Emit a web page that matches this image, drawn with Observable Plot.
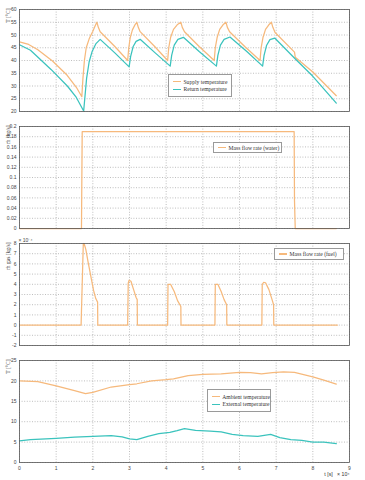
<!DOCTYPE html>
<html><head><meta charset="utf-8">
<script src="https://cdn.jsdelivr.net/npm/d3@7"></script>
<script src="https://cdn.jsdelivr.net/npm/@observablehq/plot@0.6"></script>
<style>
body{margin:0;background:#fff;}
#wrap{position:relative;width:365px;height:480px;overflow:hidden;}
.panel{position:absolute;left:0;}
.legend{position:absolute;background:#fff;border:0.8px solid #9a9a9a;font-family:"Liberation Serif","Times New Roman",serif;font-size:5.6px;color:#333;box-sizing:border-box;display:flex;flex-direction:column;justify-content:center;padding-left:4px;}
.legend .row{display:flex;align-items:center;height:7.5px;white-space:nowrap;}
.legend .sw{display:inline-block;width:8px;height:1.3px;margin-right:2.5px;}
</style></head>
<body><div id="wrap"></div>
<script>
// ---- data (time in units of 1e4 s) ----
const supplyTemp = [[0,47.3],[0.25,46.3],[0.5,44.2],[0.9,39.8],[1.3,34.2],[1.55,29.5],[1.70,25.8],
 [1.73,33],[1.77,40],[1.82,45],[1.9,48.5],[2.0,51.5],[2.07,53.8],[2.11,55],[2.15,53],[2.2,51.3],[2.6,45.5],[2.95,40],
 [2.98,45],[3.02,49],[3.08,52],[3.15,54],[3.2,55],[3.24,53],[3.29,51.3],[3.7,45.3],[4.04,40],
 [4.07,45],[4.12,49],[4.2,52.2],[4.3,54],[4.4,55],[4.44,53],[4.5,51.3],[4.9,45.5],[5.31,40],
 [5.34,45],[5.39,49],[5.46,52.2],[5.55,54],[5.63,55],[5.67,53],[5.73,51.3],[6.15,45.4],[6.56,40],
 [6.59,45],[6.64,49],[6.71,52.2],[6.8,54],[6.87,55],[6.91,53],[6.97,51],[7.5,43.3],[7.52,41.3],[8.0,35.5],[8.64,26.2]];
const returnTemp = [[0,46.2],[0.3,44],[0.86,36.5],[1.31,29.9],[1.55,25.5],[1.75,20.2],
 [1.78,25],[1.83,33],[1.9,39.5],[1.98,43.5],[2.08,46.5],[2.2,48.3],[2.6,43],[2.99,37.5],
 [3.03,41.5],[3.1,45.5],[3.18,47.5],[3.29,48.3],[3.7,43],[4.11,37.8],
 [4.15,42],[4.22,46],[4.32,48.3],[4.47,49.1],[4.9,43.5],[5.37,37.8],
 [5.41,42],[5.48,46],[5.58,48.3],[5.74,49.2],[6.2,43.5],[6.63,37.8],
 [6.67,42],[6.74,46],[6.83,48.2],[6.96,48.8],[7.51,40.8],[8.0,33.8],[8.64,23.3]];
const waterFlow = [[0,0],[1.69,0],[1.71,0.19],[7.49,0.19],[7.5,0.055],[7.52,0],[8.64,0]];
const fuelFlow = [[0,0],[1.68,0],[1.74,8],[1.77,7.9],[1.81,7.4],[1.87,6.2],[1.95,4.7],[2.02,3.4],[2.08,2.6],[2.13,2.25],[2.135,0],
 [2.95,0],[2.965,4.1],[2.99,4.4],[3.04,4.3],[3.11,3.5],[3.18,2.7],[3.21,2.5],[3.215,0],
 [4.04,0],[4.05,4.0],[4.12,4.0],[4.22,3.3],[4.31,2.4],[4.39,1.9],[4.4,1.8],[4.405,0],
 [5.33,0],[5.34,4.0],[5.41,4.0],[5.5,3.3],[5.58,2.5],[5.65,2.0],[5.655,0],
 [6.61,0],[6.62,4.0],[6.66,4.2],[6.71,4.15],[6.8,3.5],[6.88,2.6],[6.93,2.0],[6.935,0],
 [8.67,0]];
const ambientTemp = [[0,20],[0.5,19.8],[1.0,18.8],[1.5,17.6],[1.8,16.9],[2.0,17.2],[2.5,18.5],[3.0,19.1],[3.2,19.3],[3.6,20],[4.0,20.3],[4.2,20.5],[4.6,21.3],[5.0,21.6],[5.5,21.7],[6.0,22.1],[6.3,22],[6.6,21.7],[6.9,22],[7.2,22.2],[7.5,22.1],[8.0,21],[8.3,20.2],[8.64,19.2]];
const externalTemp = [[0,5.3],[0.3,5.6],[1.0,5.9],[1.5,6.2],[2.0,6.4],[2.5,6.6],[2.8,6.3],[3.0,5.8],[3.2,5.6],[3.5,6.4],[3.8,7.1],[4.1,7.4],[4.3,7.8],[4.5,8.3],[4.8,7.9],[5.2,7.7],[5.5,7.5],[5.8,6.9],[6.1,6.6],[6.5,6.4],[6.85,6.9],[7.1,6.1],[7.4,5.6],[7.7,5.4],[8.0,5.0],[8.3,5.0],[8.64,4.6]];

const xTicks = [0,1,2,3,4,5,6,7,8,9];
const ticksT1 = [20,25,30,35,40,45,50,55,60];
const ticksW = [0,0.02,0.04,0.06,0.08,0.1,0.12,0.14,0.16,0.18,0.2];
const ticksF = [-2,-1,0,1,2,3,4,5,6,7,8];
const ticksT4 = [0,5,10,15,20,25];

const ORANGE = "#F6B97C", TEAL = "#3BC3BD";
const wrap = document.getElementById("wrap");

function panel({top, height, mb, ydom, yticks, yfmt, ylabel, series, xlabels, extra}) {
  const marks = [
    Plot.gridX(xTicks, {stroke:"#8a8a8a", strokeOpacity:0.8, strokeDasharray:"1,1.6", strokeWidth:0.7}),
    Plot.gridY(yticks, {stroke:"#8a8a8a", strokeOpacity:0.8, strokeDasharray:"1,1.6", strokeWidth:0.7}),
    Plot.axisY(yticks, {tickSize:0, tickPadding:3, tickFormat: yfmt, label:null, fill:"#444"}),
    xlabels ? Plot.axisX(xTicks, {tickSize:0, tickPadding:4, label:null, fill:"#444"}) : null,
    ...series.map(s => Plot.line(s.data, {x:d=>d[0], y:d=>d[1], stroke:s.color, strokeWidth:1.25})),
    Plot.frame({stroke:"#555", strokeWidth:0.8}),
    Plot.text([ylabel], {frameAnchor:"top-left", rotate:-90, textAnchor:"end", dx:-13, dy:-1, fontSize:5.5, fill:"#333", fontFamily:"Liberation Serif"}),
    ...(extra || [])
  ].filter(Boolean);
  const p = Plot.plot({
    width:365, height, marginLeft:19, marginRight:16, marginTop:9, marginBottom:mb,
    x:{domain:[0,9], axis:null},
    y:{domain:ydom, axis:null},
    style:{fontSize:"5px", fontFamily:"Liberation Sans, Arial, sans-serif", background:"transparent"},
    marks
  });
  p.classList.add("panel");
  p.style.top = top + "px";
  wrap.appendChild(p);
}

function legend(x, y, w, h, items) {
  const d = document.createElement("div");
  d.className = "legend";
  Object.assign(d.style, {left:x+"px", top:y+"px", width:w+"px", height:h+"px"});
  for (const [label, color] of items) {
    const r = document.createElement("div"); r.className = "row";
    const s = document.createElement("span"); s.className = "sw"; s.style.background = color;
    r.appendChild(s); r.appendChild(document.createTextNode(label));
    d.appendChild(r);
  }
  wrap.appendChild(d);
}

const fmt2 = d => String(+d.toFixed(2));

panel({top:0, height:117, mb:6, ydom:[20,60], yticks:ticksT1, yfmt:fmt2, ylabel:"T [°C]",
  series:[{data:supplyTemp,color:ORANGE},{data:returnTemp,color:TEAL}]});
panel({top:117, height:117, mb:6, ydom:[0,0.2], yticks:ticksW, yfmt:fmt2, ylabel:"ṁ [kg/s]",
  series:[{data:waterFlow,color:ORANGE}]});
panel({top:234, height:117, mb:6, ydom:[-2,8], yticks:ticksF, yfmt:fmt2, ylabel:"ṁ gas [kg/s]",
  series:[{data:fuelFlow,color:ORANGE}],
  extra:[Plot.text(["× 10⁻⁴"], {frameAnchor:"top-left", textAnchor:"start", dy:-5, dx:-1, fontSize:5, fill:"#444"})]});
panel({top:351, height:129, mb:18, ydom:[0,25], yticks:ticksT4, yfmt:fmt2, ylabel:"T [°C]",
  series:[{data:ambientTemp,color:ORANGE},{data:externalTemp,color:TEAL}], xlabels:true,
  extra:[Plot.text(["t [s]   × 10⁴"], {frameAnchor:"bottom-right", textAnchor:"end", dy:13, dx:0, fontSize:5.2, fill:"#333"})]});

legend(168, 74, 64, 23, [["Supply temperature",ORANGE],["Return temperature",TEAL]]);
legend(213, 142, 69, 11, [["Mass flow rate (water)",ORANGE]]);
legend(274, 248, 70, 12, [["Mass flow rate (fuel)",ORANGE]]);
legend(207, 389, 64, 23, [["Ambient temperature",ORANGE],["External temperature",TEAL]]);
</script></body></html>
